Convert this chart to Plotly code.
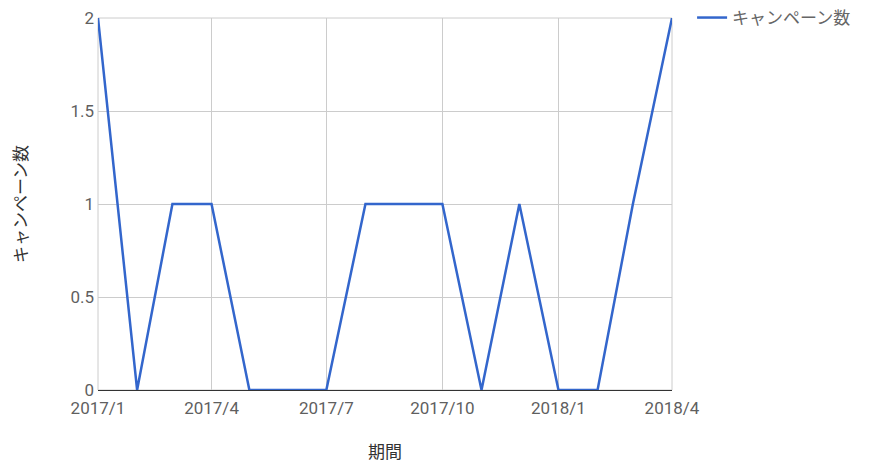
import plotly.graph_objects as go

# monthly campaign counts
months = ["2017-01-01", "2017-02-01", "2017-03-01", "2017-04-01", "2017-05-01",
          "2017-06-01", "2017-07-01", "2017-08-01", "2017-09-01", "2017-10-01",
          "2017-11-01", "2017-12-01", "2018-01-01", "2018-02-01", "2018-03-01",
          "2018-04-01"]
counts = [2, 0, 1, 1, 0, 0, 0, 1, 1, 1, 0, 1, 0, 0, 1, 2]

tick_vals = ["2017-01-01", "2017-04-01", "2017-07-01", "2017-10-01",
             "2018-01-01", "2018-04-01"]
tick_text = ["2017/1", "2017/4", "2017/7", "2017/10", "2018/1", "2018/4"]

fig = go.Figure()
fig.add_trace(go.Scatter(x=months, y=counts, mode="lines", name="キャンペーン数",
                         line=dict(color="#3366cc", width=2.5)))

font_fam = "Roboto, 'Noto Sans CJK JP', sans-serif"
# page body has an 8px margin, so the margins are reduced to match
fig.update_layout(
    width=872, height=470,
    margin=dict(l=90, r=208, t=10, b=88, autoexpand=False),
    paper_bgcolor="white", plot_bgcolor="white",
    font=dict(family=font_fam, size=17, color="#5f5f5f"),
    showlegend=True,
    legend=dict(x=1.035, y=1.0, xanchor="left", yanchor="middle",
                font=dict(size=17, color="#666")),
)
# thin gray frame so the gridlines at the range ends show up
fig.add_shape(type="rect", xref="paper", yref="paper", x0=0, x1=1, y0=0, y1=1,
              line=dict(color="#cccccc", width=1), layer="below")
fig.update_xaxes(
    range=[months[0], months[-1]], automargin=False,
    tickvals=tick_vals, ticktext=tick_text, ticklabeloverflow="allow",
    ticklabelstandoff=3,
    showgrid=True, gridcolor="#cccccc", gridwidth=1,
    showline=True, linecolor="#333", linewidth=1,
    ticks="", zeroline=False,
    title=dict(text="期間", font=dict(size=17, color="#333"), standoff=28),
)
fig.update_yaxes(
    range=[0, 2], automargin=False,
    tickvals=[0, 0.5, 1, 1.5, 2], ticktext=["0", "0.5", "1", "1.5", "2"],
    ticklabeloverflow="allow",
    showgrid=True, gridcolor="#cccccc", gridwidth=1,
    zeroline=False, showline=False, ticks="", ticklabelstandoff=3,
    title=dict(text="キャンペーン数", font=dict(size=17, color="#333"), standoff=38),
)

fig.write_html("out.html")
